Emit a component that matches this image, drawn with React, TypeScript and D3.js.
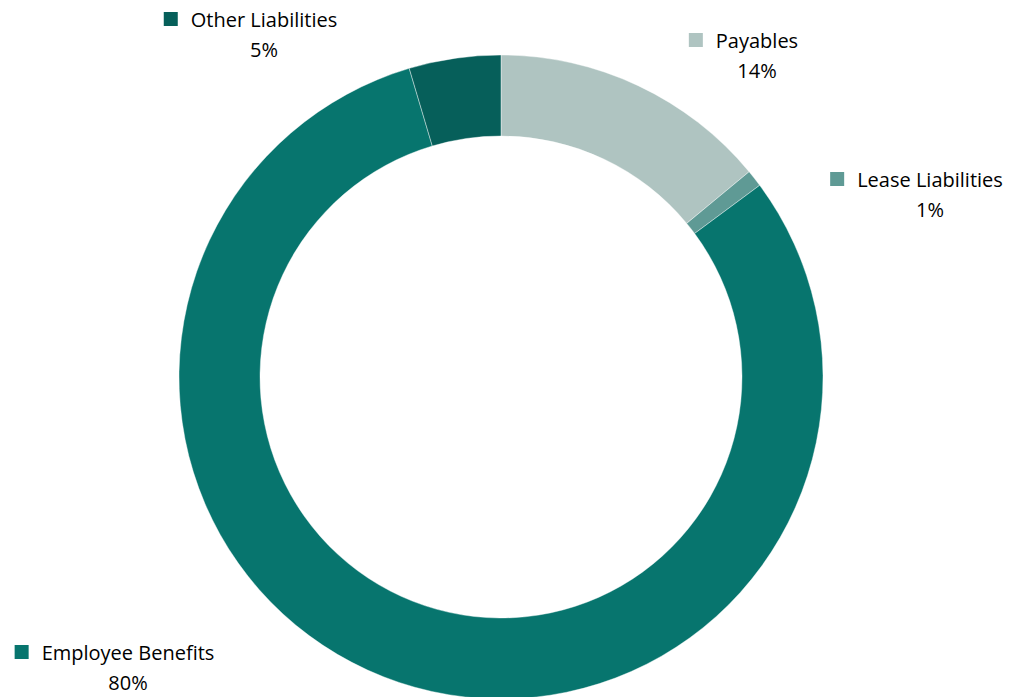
import React from "react";
import * as d3 from "d3";

const categories = ["Payables", "Lease Liabilities", "Employee Benefits", "Other Liabilities"];
const values = [14.0, 0.85, 80.55, 4.6];
const percentLabels = ["14%", "1%", "80%", "5%"];
const colors = ["#AFC4C1", "#5F9A95", "#07756E", "#065F5A"];
// label anchor (center of name text, baseline of name)
const labelPos: [number, number][] = [[757, 48], [930, 187], [128, 660], [264, 27]];

const W = 1010, H = 697;
const cx = 501, cy = 377, rOuter = 322, rInner = 241;

export default function App() {
  const pie = d3.pie<number>().sort(null).value((d) => d)(values);
  const arc = d3.arc<d3.PieArcDatum<number>>().innerRadius(rInner).outerRadius(rOuter);
  const font = "'Open Sans', sans-serif";
  return (
    <svg width={W} height={H} style={{ position: "absolute", left: 0, top: 0 }}>
      <rect width={W} height={H} fill="#fff" />
      <g transform={`translate(${cx},${cy})`}>
        {pie.map((p, i) => (
          <path key={i} d={arc(p) || ""} fill={colors[i]} stroke="#fff" strokeOpacity={0.5} strokeWidth={0.8} />
        ))}
      </g>
      {categories.map((c, i) => {
        const [x, y] = labelPos[i];
        return (
          <g key={c} fontFamily={font} fontSize={20} fill="#000" style={{ fontVariantLigatures: "none" }}>
            <text x={x} y={y} textAnchor="middle" className="lbl">{c}</text>
            <text x={x} y={y + 30} textAnchor="middle">{percentLabels[i]}</text>
          </g>
        );
      })}
      <Squares />
    </svg>
  );
}

function Squares() {
  const ref = React.useRef<SVGGElement>(null);
  React.useEffect(() => {
    const g = d3.select(ref.current);
    g.selectAll("*").remove();
    const svg = d3.select(ref.current!.ownerSVGElement!);
    svg.selectAll<SVGTextElement, unknown>("text.lbl").each(function (_, i) {
      const bb = this.getBBox();
      g.append("rect")
        .attr("x", bb.x - 27)
        .attr("y", labelPos[i][1] - 15)
        .attr("width", 14)
        .attr("height", 14)
        .attr("fill", colors[i]);
    });
  }, []);
  return <g ref={ref} />;
}
